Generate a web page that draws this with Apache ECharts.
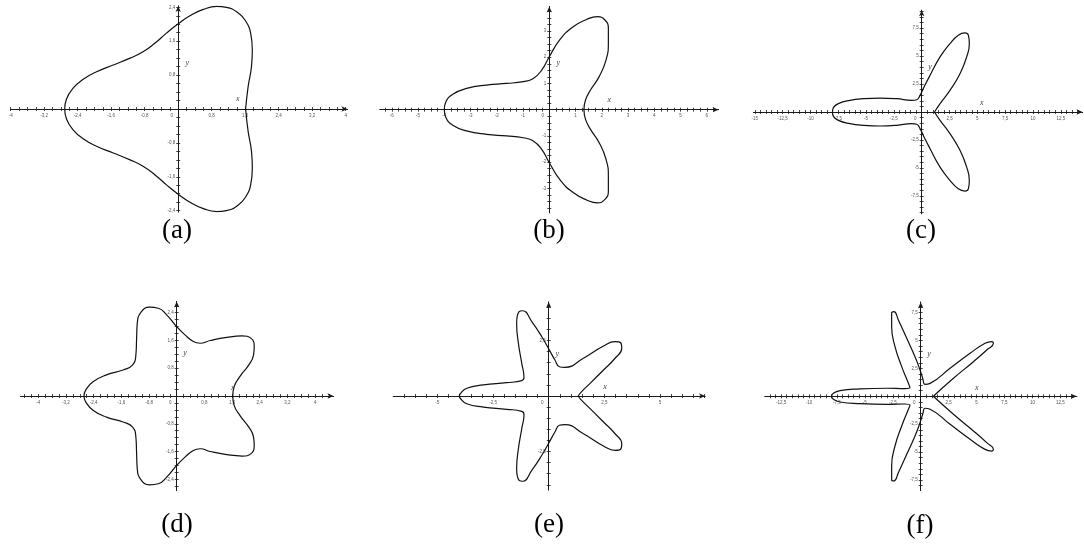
<!DOCTYPE html>
<html>
<head>
<meta charset="utf-8">
<script src="https://cdn.jsdelivr.net/npm/echarts@6/dist/echarts.min.js"></script>
<style>
  html, body { margin: 0; padding: 0; background: #fff; }
  #chart { width: 1084px; height: 548px; }
</style>
</head>
<body>
<div id="chart"></div>
<script>
// curve points, [x, y], going round counter-clockwise
const curveA = [
  [1.61, 0], [1.67, 0.53], [1.75, 1.0], [1.77, 1.39], [1.73, 1.79], [1.62, 2.06], [1.43, 2.27],
  [1.15, 2.40], [0.92, 2.42], [0.60, 2.35], [0.28, 2.20], [0, 2.01], [-0.28, 1.79], [-0.56, 1.55],
  [-0.84, 1.35], [-1.15, 1.20], [-1.55, 1.04], [-1.95, 0.88], [-2.27, 0.70], [-2.51, 0.49],
  [-2.67, 0.23], [-2.71, 0],
  [-2.67, -0.23], [-2.51, -0.49], [-2.27, -0.70], [-1.95, -0.88], [-1.55, -1.04], [-1.15, -1.20],
  [-0.84, -1.35], [-0.56, -1.55], [-0.28, -1.79], [0, -2.01], [0.28, -2.20], [0.60, -2.35],
  [0.92, -2.42], [1.15, -2.40], [1.43, -2.27], [1.62, -2.06], [1.73, -1.79], [1.77, -1.39],
  [1.75, -1.0], [1.67, -0.53], [1.61, 0]
];
const curveB = [
  [1.32, 0], [1.38, 0.37], [1.57, 0.75], [1.90, 1.26], [2.16, 1.89], [2.25, 2.53], [2.25, 3.10],
  [2.12, 3.42], [1.83, 3.55], [1.42, 3.44], [0.91, 3.16], [0.41, 2.68], [0, 2.02], [-0.29, 1.51],
  [-0.61, 1.19], [-0.99, 1.07], [-1.63, 1.0], [-2.39, 0.94], [-3.15, 0.81], [-3.66, 0.60],
  [-3.94, 0.30], [-4.0, 0],
  [-3.94, -0.30], [-3.66, -0.60], [-3.15, -0.81], [-2.39, -0.94], [-1.63, -1.0], [-0.99, -1.07],
  [-0.61, -1.19], [-0.29, -1.51], [0, -2.02], [0.41, -2.68], [0.91, -3.16], [1.42, -3.44],
  [1.83, -3.55], [2.12, -3.42], [2.25, -3.10], [2.25, -2.53], [2.16, -1.89], [1.90, -1.26],
  [1.57, -0.75], [1.38, -0.37], [1.32, 0]
];
const curveC = [
  [1.15, 0], [1.65, 0.75], [2.54, 1.94], [3.44, 3.43], [4.04, 4.93], [4.28, 6.12], [4.19, 6.87],
  [3.89, 7.07], [3.29, 6.87], [2.54, 6.12], [1.65, 4.93], [0.75, 3.28], [0.21, 2.24], [-0.15, 1.49],
  [-0.45, 1.10], [-0.90, 1.04], [-2.25, 1.19], [-3.74, 1.25], [-5.24, 1.19], [-6.44, 1.04],
  [-7.49, 0.75], [-7.93, 0.39], [-8.02, 0],
  [-7.93, -0.39], [-7.49, -0.75], [-6.44, -1.04], [-5.24, -1.19], [-3.74, -1.25], [-2.25, -1.19],
  [-0.90, -1.04], [-0.45, -1.10], [-0.15, -1.49], [0.21, -2.24], [0.75, -3.28], [1.65, -4.93],
  [2.54, -6.12], [3.29, -6.87], [3.89, -7.07], [4.19, -6.87], [4.28, -6.12], [4.04, -4.93],
  [3.44, -3.43], [2.54, -1.94], [1.65, -0.75], [1.15, 0]
];
const curveD = [
  [1.62, 0], [1.66, 0.27], [1.84, 0.58], [2.08, 0.89], [2.22, 1.18], [2.24, 1.42], [2.15, 1.66],
  [1.89, 1.73], [1.45, 1.69], [0.97, 1.60], [0.68, 1.52], [0.48, 1.57], [0.24, 1.76], [0, 2.0],
  [-0.29, 2.34], [-0.53, 2.53], [-0.79, 2.56], [-1.02, 2.43], [-1.14, 2.10], [-1.16, 1.62],
  [-1.18, 1.18], [-1.28, 0.89], [-1.55, 0.75], [-2.03, 0.61], [-2.42, 0.41], [-2.63, 0.17], [-2.68, 0],
  [-2.63, -0.17], [-2.42, -0.41], [-2.03, -0.61], [-1.55, -0.75], [-1.28, -0.89], [-1.18, -1.18],
  [-1.16, -1.62], [-1.14, -2.10], [-1.02, -2.43], [-0.79, -2.56], [-0.53, -2.53], [-0.29, -2.34],
  [0, -2.0], [0.24, -1.76], [0.48, -1.57], [0.68, -1.52], [0.97, -1.60], [1.45, -1.69], [1.89, -1.73],
  [2.15, -1.66], [2.24, -1.42], [2.22, -1.18], [2.08, -0.89], [1.84, -0.58], [1.66, -0.27], [1.62, 0]
];
const curveE = [
  [1.32, 0], [1.48, 0.20], [1.86, 0.57], [2.46, 1.17], [2.98, 1.70], [3.28, 2.15], [3.23, 2.40],
  [2.98, 2.45], [2.46, 2.25], [1.56, 1.70], [0.73, 1.29], [0.48, 1.32], [0.28, 1.62], [0.03, 2.07],
  [-0.31, 2.67], [-0.76, 3.35], [-1.17, 3.84], [-1.33, 3.80], [-1.44, 3.27], [-1.36, 2.37],
  [-1.21, 1.47], [-1.11, 0.84], [-1.21, 0.69], [-1.89, 0.60], [-2.93, 0.50], [-3.68, 0.35],
  [-3.98, 0.09], [-4.01, 0],
  [-3.98, -0.09], [-3.68, -0.35], [-2.93, -0.50], [-1.89, -0.60], [-1.21, -0.69], [-1.11, -0.84],
  [-1.21, -1.47], [-1.36, -2.37], [-1.44, -3.27], [-1.33, -3.80], [-1.17, -3.84], [-0.76, -3.35],
  [-0.31, -2.67], [0.03, -2.07], [0.28, -1.62], [0.48, -1.32], [0.73, -1.29], [1.56, -1.70],
  [2.46, -2.25], [2.98, -2.45], [3.23, -2.40], [3.28, -2.15], [2.98, -1.70], [2.46, -1.17],
  [1.86, -0.57], [1.48, -0.20], [1.32, 0]
];
const curveF = [
  [1.13, 0], [2.93, 1.61], [4.72, 3.1], [5.91, 4.15], [6.51, 4.75], [6.36, 4.9], [5.76, 4.75],
  [4.42, 3.85], [2.63, 2.51], [0.84, 1.16], [0.39, 1.07], [0.18, 1.61], [-0.06, 2.36], [-0.51, 3.55],
  [-1.25, 5.19], [-2.0, 6.84], [-2.39, 7.58], [-2.6, 7.49], [-2.6, 6.24], [-2.3, 4.45], [-1.7, 2.66],
  [-1.1, 1.16], [-0.96, 0.78], [-1.4, 0.69], [-3.04, 0.72], [-5.43, 0.66], [-7.22, 0.51],
  [-7.82, 0.27], [-7.97, 0],
  [-7.82, -0.27], [-7.22, -0.51], [-5.43, -0.66], [-3.04, -0.72], [-1.4, -0.69], [-0.96, -0.78],
  [-1.1, -1.16], [-1.7, -2.66], [-2.3, -4.45], [-2.6, -6.24], [-2.6, -7.49], [-2.39, -7.58],
  [-2.0, -6.84], [-1.25, -5.19], [-0.51, -3.55], [-0.06, -2.36], [0.18, -1.61], [0.39, -1.07],
  [0.84, -1.16], [2.63, -2.51], [4.42, -3.85], [5.76, -4.75], [6.36, -4.9], [6.51, -4.75],
  [5.91, -4.15], [4.72, -3.1], [2.93, -1.61], [1.13, 0]
];

// tick labels
const xLabelsA = [-4, -3.2, -2.4, -1.6, -0.8, 0, 0.8, 1.6, 2.4, 3.2, 4];
const yLabelsA = [-2.4, -1.6, -0.8, 0.8, 1.6, 2.4];
const xLabelsB = [-6, -5, -4, -3, -2, -1, 0, 1, 2, 3, 4, 5, 6];
const yLabelsB = [-3, -2, -1, 1, 2, 3];
const xLabelsC = [-15, -12.5, -10, -7.5, -5, -2.5, 0, 2.5, 5, 7.5, 10, 12.5];
const yLabelsC = [-7.5, -5, -2.5, 2.5, 5, 7.5];
const xLabelsD = [-4, -3.2, -2.4, -1.6, -0.8, 0, 0.8, 1.6, 2.4, 3.2, 4];
const yLabelsD = [-2.4, -1.6, -0.8, 0.8, 1.6, 2.4];
const xLabelsE = [-5, -2.5, 0, 2.5, 5];
const yLabelsE = [-2.5, 2.5];
const xLabelsF = [-12.5, -10, -7.5, -5, -2.5, 0, 2.5, 5, 7.5, 10, 12.5];
const yLabelsF = [-7.5, -5, -2.5, 2.5, 5, 7.5];

// layout: origin in px, px per unit, visible axis ranges, small tick step
const panels = [
  { caption: '(a)', curve: curveA, xLabels: xLabelsA, yLabels: yLabelsA, step: 0.2,
    origin: [178.2, 109], scale: [41.875, 42.37], xRange: [-4, 4.04], yRange: [-2.43, 2.43],
    xName: [237.7, 99.3], yName: [187.3, 62.7], capPos: [177, 231] },
  { caption: '(b)', curve: curveB, xLabels: xLabelsB, yLabels: yLabelsB, step: 0.25,
    origin: [549.3, 109.7], scale: [26.25, 26.23], xRange: [-6.45, 6.45], yRange: [-3.93, 3.93],
    xName: [609.3, 100], yName: [558.3, 63.3], capPos: [549, 231] },
  { caption: '(c)', curve: curveC, xLabels: xLabelsC, yLabels: yLabelsC, step: 0.5,
    origin: [921.7, 112], scale: [11.13, 11.18], xRange: [-15.1, 14.45], yRange: [-9.1, 9.1],
    xName: [981.7, 103.3], yName: [930, 66.7], capPos: [921, 231] },
  { caption: '(d)', curve: curveD, xLabels: xLabelsD, yLabels: yLabelsD, step: 0.2,
    origin: [176.7, 396], scale: [34.6, 34.7], xRange: [-4.51, 4.53], yRange: [-2.72, 2.72],
    xName: [232.7, 388.3], yName: [185, 353.3], capPos: [177, 525] },
  { caption: '(e)', curve: curveE, xLabels: xLabelsE, yLabels: yLabelsE, step: 0.5,
    origin: [548.7, 396], scale: [22.27, 22.2], xRange: [-6.98, 7.02], yRange: [-4.23, 4.23],
    xName: [605, 387.3], yName: [557.3, 354], capPos: [549, 525] },
  { caption: '(f)', curve: curveF, xLabels: xLabelsF, yLabels: yLabelsF, step: 0.5,
    origin: [920.7, 396.3], scale: [11.17, 11.17], xRange: [-13.94, 13.97], yRange: [-8.43, 8.43],
    xName: [976.7, 387.7], yName: [929, 354.3], capPos: [920, 526] }
];

const AXIS_COLOR = '#1a1a1a';
const LABEL_COLOR = '#555';
const fmt = v => String(v).replace('.', ',');

function tickList(min, max, step) {
  const out = [];
  for (let k = Math.ceil(min / step - 1e-9); k * step <= max + 1e-9; k++) {
    out.push(+(k * step).toFixed(3));
  }
  return out;
}

const grid = [], xAxis = [], yAxis = [], series = [], graphic = [];

panels.forEach((p, i) => {
  const left = p.origin[0] + p.xRange[0] * p.scale[0];
  const width = (p.xRange[1] - p.xRange[0]) * p.scale[0];
  const top = p.origin[1] - p.yRange[1] * p.scale[1];
  const height = (p.yRange[1] - p.yRange[0]) * p.scale[1];
  grid.push({ left, top, width, height, containLabel: false, outerBoundsMode: 'none' });

  // the axes cross at the origin: shift them in from the grid edges
  const offBottom = -(-p.yRange[0] * p.scale[1]);
  const offTop = -(p.yRange[1] * p.scale[1]);
  const offLeft = -(-p.xRange[0] * p.scale[0]);
  const offRight = -(p.xRange[1] * p.scale[0]);

  const xi = xAxis.length;
  const yi = yAxis.length;
  const xTicks = tickList(p.xRange[0], p.xRange[1], p.step);
  const yTicks = tickList(p.yRange[0], p.yRange[1], p.step);

  const lineBase = { onZero: false, lineStyle: { color: AXIS_COLOR, width: 1 } };
  const tickBase = { length: 2, lineStyle: { color: AXIS_COLOR, width: 0.8 } };

  // x axis with labels (ticks down) + twin with ticks up
  xAxis.push({
    type: 'value', gridIndex: i, position: 'bottom', offset: offBottom,
    min: p.xRange[0], max: p.xRange[1],
    splitLine: { show: false },
    axisLine: { ...lineBase, symbol: ['none', 'arrow'], symbolSize: [4, 6] },
    axisTick: { ...tickBase, customValues: xTicks },
    axisLabel: {
      customValues: p.xLabels, margin: 4, fontSize: 4.5, color: LABEL_COLOR,
      fontFamily: 'Liberation Sans',
      formatter: v => (v === 0 ? '{z|0}' : fmt(v)),
      rich: { z: { padding: [0, 13, 0, 0], fontSize: 4.5, color: LABEL_COLOR } }
    }
  });
  xAxis.push({
    type: 'value', gridIndex: i, position: 'top', offset: offTop,
    min: p.xRange[0], max: p.xRange[1],
    splitLine: { show: false },
    axisLine: { ...lineBase },
    axisTick: { ...tickBase, customValues: xTicks },
    axisLabel: { show: false }
  });

  yAxis.push({
    type: 'value', gridIndex: i, position: 'left', offset: offLeft,
    min: p.yRange[0], max: p.yRange[1],
    splitLine: { show: false },
    axisLine: { ...lineBase, symbol: ['none', 'arrow'], symbolSize: [4, 6] },
    axisTick: { ...tickBase, customValues: yTicks },
    axisLabel: {
      customValues: p.yLabels, margin: 3, fontSize: 4.5, color: LABEL_COLOR,
      fontFamily: 'Liberation Sans', formatter: v => fmt(v)
    }
  });
  yAxis.push({
    type: 'value', gridIndex: i, position: 'right', offset: offRight,
    min: p.yRange[0], max: p.yRange[1],
    splitLine: { show: false },
    axisLine: { ...lineBase },
    axisTick: { ...tickBase, customValues: yTicks },
    axisLabel: { show: false }
  });

  series.push({
    type: 'line', xAxisIndex: xi, yAxisIndex: yi, data: p.curve,
    smooth: 0.5, showSymbol: false, silent: true,
    lineStyle: { color: '#111', width: 1.2 }
  });

  const nameFont = 'italic 8px "Liberation Serif"';
  graphic.push({
    type: 'text', x: p.xName[0], y: p.xName[1], silent: true,
    style: { text: 'x', font: nameFont, fill: '#444', align: 'center', verticalAlign: 'middle',
             textAlign: 'center', textVerticalAlign: 'middle' }
  });
  graphic.push({
    type: 'text', x: p.yName[0], y: p.yName[1], silent: true,
    style: { text: 'y', font: nameFont, fill: '#444', align: 'center', verticalAlign: 'middle',
             textAlign: 'center', textVerticalAlign: 'middle' }
  });
  graphic.push({
    type: 'text', x: p.capPos[0], y: p.capPos[1], silent: true,
    style: { text: p.caption, font: '27px "Liberation Serif"', fill: '#000',
             align: 'center', verticalAlign: 'middle', textAlign: 'center', textVerticalAlign: 'middle' }
  });
});

const chart = echarts.init(document.getElementById('chart'));
chart.setOption({
  animation: false,
  backgroundColor: '#fff',
  grid, xAxis, yAxis, series, graphic
});
</script>
</body>
</html>
